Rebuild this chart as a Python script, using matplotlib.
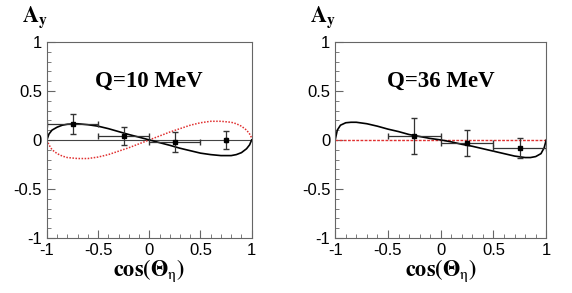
import matplotlib
matplotlib.use("Agg")
from matplotlib import pyplot as plt
from matplotlib.ticker import MultipleLocator

plt.rcParams['mathtext.fontset'] = 'stix'

# data points, Q=10 MeV
x10 = [-0.75, -0.25, 0.25, 0.75]
y10 = [0.16, 0.04, -0.02, 0.0]
ey10 = [0.10, 0.09, 0.10, 0.09]
ex10 = [0.25, 0.25, 0.25, 0.0]

# data points, Q=36 MeV
x36 = [-0.25, 0.25, 0.75]
y36 = [0.04, -0.03, -0.08]
ey36 = [0.18, 0.13, 0.10]
ex36 = [0.25, 0.25, 0.25]

# model curves
cx_a = [-1.0, -0.98, -0.95, -0.9, -0.85, -0.8, -0.7, -0.6, -0.5, -0.4, -0.3, -0.2, -0.1,
        0.0, 0.1, 0.2, 0.3, 0.4, 0.5, 0.6, 0.7, 0.8, 0.85, 0.9, 0.95, 0.98, 1.0]
black10 = [0.0, 0.06, 0.10, 0.13, 0.15, 0.16, 0.165, 0.155, 0.14, 0.115, 0.085, 0.055, 0.028,
           0.0, -0.028, -0.055, -0.085, -0.11, -0.135, -0.15, -0.16, -0.16, -0.15, -0.13, -0.09, -0.05, 0.0]
red10 = [0.0, -0.05, -0.10, -0.14, -0.165, -0.18, -0.19, -0.19, -0.175, -0.15, -0.115, -0.08, -0.04,
         0.0, 0.04, 0.08, 0.115, 0.15, 0.175, 0.19, 0.19, 0.18, 0.165, 0.14, 0.10, 0.06, 0.02]
black36 = [0.0, 0.10, 0.15, 0.175, 0.18, 0.18, 0.165, 0.14, 0.11, 0.085, 0.055, 0.035, 0.015,
           0.0, -0.02, -0.045, -0.065, -0.09, -0.115, -0.14, -0.165, -0.18, -0.18, -0.17, -0.14, -0.08, 0.0]
red36 = [0.0] * len(cx_a)

serif = ['Liberation Serif', 'DejaVu Serif']
sans = ['Liberation Sans', 'DejaVu Sans']

fig = plt.figure(figsize=(5.72, 2.93), dpi=100)
ax1 = fig.add_axes([0.082, 0.188, 0.358, 0.669])
ax2 = fig.add_axes([0.586, 0.188, 0.369, 0.669])

def style(ax, label):
    ax.set_xlim(-1, 1)
    ax.set_ylim(-1, 1)
    for s in ax.spines.values():
        s.set_color('#666666')
        s.set_linewidth(0.8)
    ax.xaxis.set_major_locator(MultipleLocator(0.5))
    ax.xaxis.set_minor_locator(MultipleLocator(0.1))
    ax.yaxis.set_major_locator(MultipleLocator(0.5))
    ax.yaxis.set_minor_locator(MultipleLocator(0.1))
    ax.tick_params(which='both', direction='in', top=False, right=False, color='#666666')
    ax.tick_params(which='major', length=6, labelsize=12)
    ax.tick_params(which='minor', length=3)
    ax.set_xticks([-1, -0.5, 0, 0.5, 1])
    ax.set_xticklabels(['-1', '-0.5', '0', '0.5', '1'], family=sans)
    ax.set_yticks([-1, -0.5, 0, 0.5, 1])
    ax.set_yticklabels(['-1', '-0.5', '0', '0.5', '1'], family=sans)
    ax.set_xlabel(r'$\mathbf{cos(\Theta}_{\mathrm{\eta}}\mathbf{)}$', fontsize=16, labelpad=0,
                  math_fontfamily='stix')
    ax.text(-0.12, 1.10, r'$\mathbf{A}_{\mathbf{y}}$', transform=ax.transAxes, fontsize=16,
            math_fontfamily='stix')
    ax.text(0.5, 0.77, label, transform=ax.transAxes, fontsize=16.5, fontweight='bold',
            family=serif, ha='center')

style(ax1, 'Q=10 MeV')
ax1.axhline(0, color='#444444', lw=0.8)
ax1.plot(cx_a, red10, color='#e03030', lw=1.1, ls=(0, (1, 1)))
ax1.plot(cx_a, black10, color='black', lw=1.2)
ax1.errorbar(x10, y10, yerr=ey10, xerr=ex10, fmt='s', ms=3, color='black',
             ecolor='#333333', elinewidth=0.9, capsize=2)

style(ax2, 'Q=36 MeV')
ax2.plot(cx_a, red36, color='#e03030', lw=1.0, ls=(0, (2, 1)))
ax2.plot(cx_a, black36, color='black', lw=1.2)
ax2.errorbar(x36, y36, yerr=ey36, xerr=ex36, fmt='s', ms=3, color='black',
             ecolor='#333333', elinewidth=0.9, capsize=2)

fig.savefig('out.png', dpi=100)
